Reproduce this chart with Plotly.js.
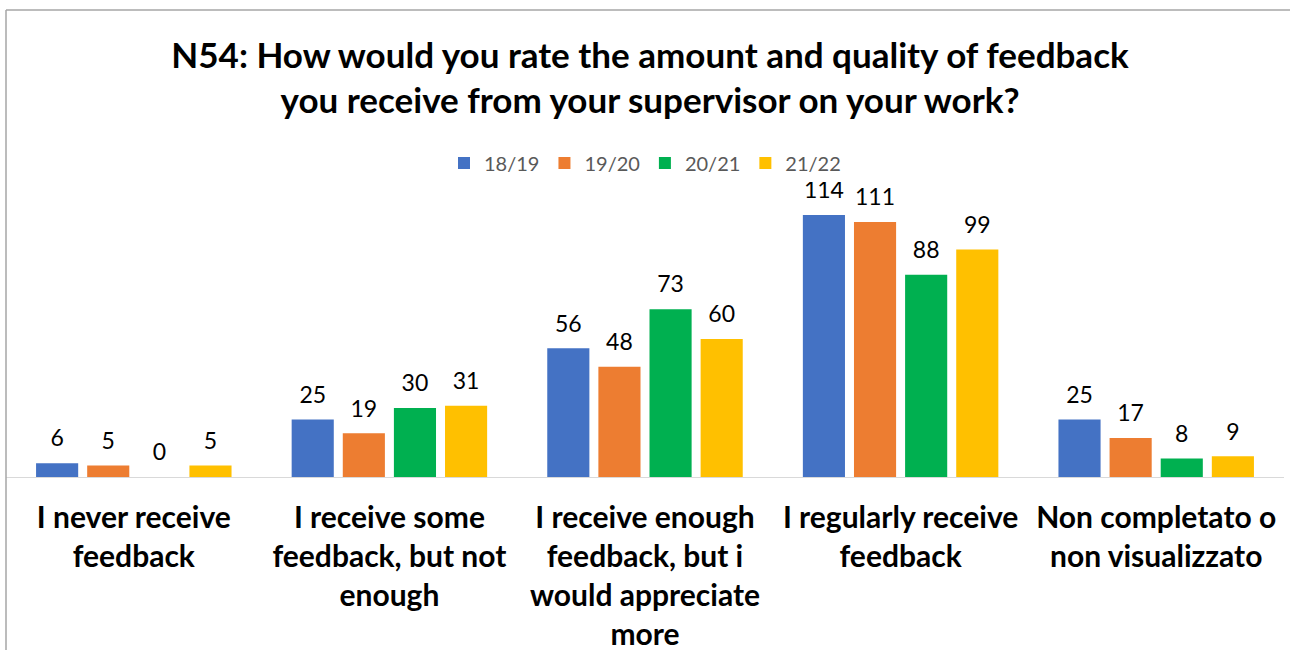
<!DOCTYPE html>
<html>
<head>
<meta charset="utf-8">
<script src="https://cdn.plot.ly/plotly-3.0.1.min.js"></script>
<style>
  html, body { margin: 0; padding: 0; background: #fff; }
  #chart { width: 1290px; height: 650px; }
</style>
</head>
<body>
<div id="chart"></div>
<script>
const categories = [
  "I never receive<br>feedback",
  "I receive some<br>feedback, but not<br>enough",
  "I receive enough<br>feedback, but i<br>would appreciate<br>more",
  "I regularly receive<br>feedback",
  "Non completato o<br>non visualizzato"
];
const seriesNames = ["18/19", "19/20", "20/21", "21/22"];
const values1819 = [6, 25, 56, 114, 25];
const values1920 = [5, 19, 48, 111, 17];
const values2021 = [0, 30, 73, 88, 8];
const values2122 = [5, 31, 60, 99, 9];
const colors = ["#4472C4", "#ED7D31", "#00B050", "#FFC000"];

const allValues = [values1819, values1920, values2021, values2122];
const FONT = "Lato, 'Open Sans', sans-serif";

const barTraces = allValues.map((vals, i) => ({
  type: "bar",
  name: seriesNames[i],
  x: categories,
  y: vals,
  marker: { color: colors[i] },
  hoverinfo: "x+y+name"
}));

// data labels: grouped scatter text aligned with the grouped bars
const labelTraces = allValues.map((vals, i) => ({
  type: "scatter",
  mode: "markers+text",
  name: seriesNames[i],
  showlegend: false,
  hoverinfo: "skip",
  x: categories,
  y: vals,
  text: vals.map(String),
  textposition: "top center",
  textfont: { family: FONT, size: 23, color: "#000000" },
  marker: { size: 16, color: "rgba(0,0,0,0)" },
  cliponaxis: false
}));

const layout = {
  width: 1290,
  height: 650,
  margin: { l: 6, r: 6, t: 175, b: 173 },
  paper_bgcolor: "#ffffff",
  plot_bgcolor: "#ffffff",
  barmode: "group",
  bargap: 0.2,
  bargroupgap: 0.176,
  scattermode: "group",
  scattergap: 0.2,
  showlegend: true,
  title: {
    text: "<b>N54: How would you rate the amount and quality of feedback<br>you receive from your supervisor on your work?</b>",
    font: { family: FONT, size: 35, color: "#000000" },
    x: 0.5039, xref: "container", xanchor: "center",
    y: 1 - 67.5 / 650, yref: "container", yanchor: "middle"
  },
  legend: {
    orientation: "h",
    x: 0.5, xanchor: "center",
    y: 1.04, yanchor: "middle",
    font: { family: FONT, size: 20, color: "#595959" },
    traceorder: "normal",
    itemclick: false
  },
  xaxis: {
    type: "category",
    showline: true,
    linecolor: "#d9d9d9",
    linewidth: 1,
    showgrid: false,
    ticks: "",
    ticklabelstandoff: 14,
    tickfont: { family: FONT, size: 30, color: "#000000", weight: 700 },
    fixedrange: true
  },
  yaxis: {
    range: [0, 131.4],
    visible: false,
    showgrid: false,
    zeroline: false,
    fixedrange: true
  },
  shapes: [
    { type: "line", xref: "paper", yref: "paper", x0: 0, x1: 0, y0: -1, y1: (477 - 10) / 302,
      line: { color: "#a6a6a6", width: 1.5 } },
    { type: "line", xref: "paper", yref: "paper", x0: 0, x1: 1.1, y0: (477 - 10) / 302, y1: (477 - 10) / 302,
      line: { color: "#a6a6a6", width: 1.5 } }
  ]
};

Plotly.newPlot("chart", barTraces.concat(labelTraces), layout, { displayModeBar: false, responsive: false });
</script>
</body>
</html>
